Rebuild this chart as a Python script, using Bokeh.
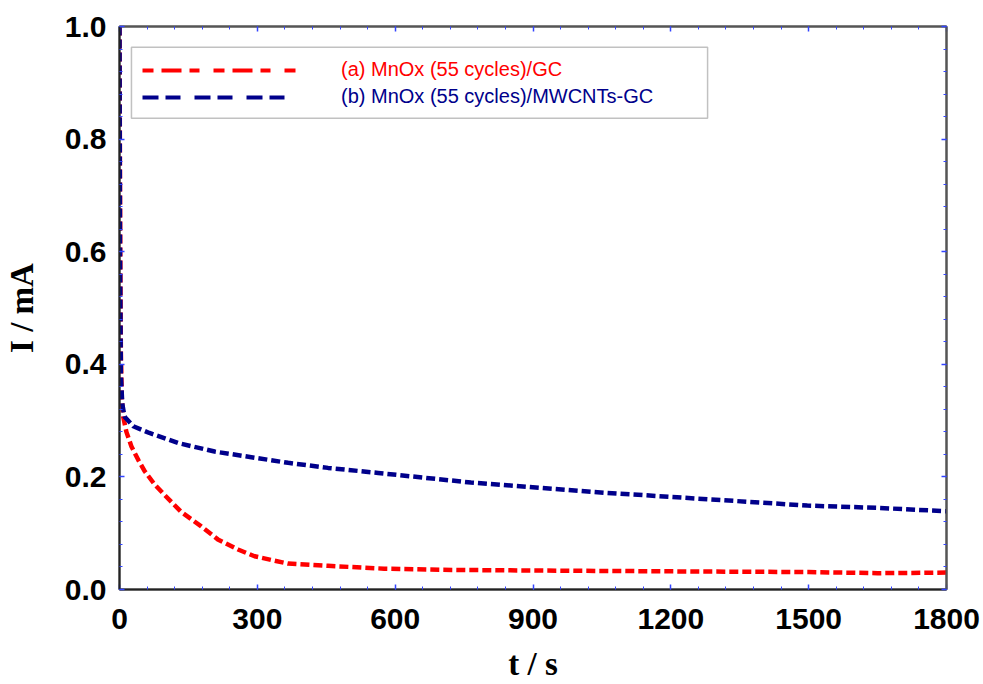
from bokeh.plotting import figure
from bokeh.models import (LinearAxis, FixedTicker, Legend, LegendItem,
                          BoxAnnotation, Range1d)
from bokeh.embed import file_html
from bokeh.resources import INLINE

# ---- data ----
t_a = [0, 1, 2, 3, 5, 8, 15, 26, 41, 55, 77, 98, 134, 178, 214, 258, 294,
       367, 454, 576, 700, 850, 1050, 1250, 1500, 1650, 1800]
i_a = [1.0, 0.75, 0.55, 0.42, 0.34, 0.307, 0.28, 0.254, 0.23, 0.21, 0.186,
       0.168, 0.138, 0.112, 0.089, 0.071, 0.059, 0.046, 0.042, 0.037, 0.035,
       0.034, 0.033, 0.032, 0.031, 0.029, 0.030]

t_b = [0, 1, 3, 6, 11, 30, 65, 128, 207, 287, 367, 454, 563, 765, 1054,
       1287, 1497, 1650, 1800]
i_b = [1.0, 0.6, 0.38, 0.33, 0.307, 0.29, 0.278, 0.26, 0.245, 0.235, 0.225,
       0.216, 0.207, 0.19, 0.172, 0.16, 0.149, 0.145, 0.139]

label_a = "(a) MnOx (55 cycles)/GC"
label_b = "(b) MnOx (55 cycles)/MWCNTs-GC"

x_ticks = [0, 300, 600, 900, 1200, 1500, 1800]
x_minor = [v for v in range(0, 1801, 60)]
y_ticks = [0.0, 0.2, 0.4, 0.6, 0.8, 1.0]
y_minor = [round(k * 0.04, 2) for k in range(0, 26)]

RED = "#ff0000"
BLUE = "#00008b"
TICK = "#3344ff"

p = figure(width=980, height=684,
           x_range=Range1d(0, 1800), y_range=Range1d(0, 1.0),
           output_backend="svg", toolbar_location=None,
           min_border_left=118, min_border_top=26, min_border_right=34,
           min_border_bottom=94, x_axis_location=None, y_axis_location=None)
p.grid.visible = False
p.outline_line_color = "#555555"
p.outline_line_width = 2
p.background_fill_color = "white"
p.border_fill_color = "white"


def style_axis(ax, ticks, minor, show_labels):
    ax.ticker = FixedTicker(ticks=ticks, minor_ticks=minor)
    ax.major_tick_in = 5
    ax.major_tick_out = 0
    ax.minor_tick_in = 3
    ax.minor_tick_out = 0
    ax.major_tick_line_color = TICK
    ax.minor_tick_line_color = TICK
    ax.major_tick_line_width = 1.5
    ax.minor_tick_line_width = 1
    ax.axis_line_color = "#222222"
    ax.axis_line_width = 2
    if show_labels:
        ax.major_label_text_font = "Liberation Sans"
        ax.major_label_text_font_style = "bold"
        ax.major_label_text_font_size = "30px"
        ax.major_label_text_color = "black"
        ax.axis_label_text_font = "Liberation Serif"
        ax.axis_label_text_font_style = "bold"
        ax.axis_label_text_font_size = "33px"
        ax.axis_label_text_color = "black"
    else:
        ax.major_label_text_font_size = "1px"
        ax.major_label_text_color = None
        ax.major_label_standoff = 0
        ax.axis_line_color = "#555555"


xb = LinearAxis(axis_label="t / s")
style_axis(xb, x_ticks, x_minor, True)
xb.major_label_standoff = 19
xb.axis_label_standoff = 14
xb.axis_label_text_line_height = 0.8
xb.major_label_overrides = {v: str(v) for v in x_ticks}
p.add_layout(xb, "below")

yl = LinearAxis(axis_label="I / mA")
style_axis(yl, y_ticks, y_minor, True)
yl.major_label_standoff = 13
yl.axis_label_standoff = 22
yl.major_label_overrides = {v: f"{v:.1f}" for v in y_ticks}
p.add_layout(yl, "left")

xt = LinearAxis()
style_axis(xt, x_ticks, x_minor, False)
p.add_layout(xt, "above")

yr = LinearAxis()
style_axis(yr, y_ticks, y_minor, False)
p.add_layout(yr, "right")

# ---- curves ----
p.line(t_a, i_a, line_color=RED, line_width=4.5, line_dash="9 4",
       line_cap="butt", line_join="round")
p.line(t_b, i_b, line_color=BLUE, line_width=4.5, line_dash="9 4",
       line_cap="butt", line_join="round")

# legend-only renderers (placed outside the visible range)
lg_a = p.line([-1000, -900], [-1, -1], line_color=RED, line_width=4,
              line_dash="11 8 20 8 10 14")
lg_b = p.line([-1000, -900], [-1, -1], line_color=BLUE, line_width=4,
              line_dash="16 7 15 14")

box = BoxAnnotation(left=26, right=1280, top=0.963, bottom=0.837,
                    fill_color="white", fill_alpha=1.0,
                    line_color="#333333", line_width=1.5)
p.add_layout(box)


def make_legend(item_label, renderer, color, loc):
    lg = Legend(items=[LegendItem(label=item_label, renderers=[renderer])],
                location=loc, padding=0, margin=0, spacing=0,
                glyph_width=154, glyph_height=20, label_height=20,
                label_standoff=45, border_line_color=None,
                background_fill_alpha=0.0,
                label_text_font="Liberation Sans",
                label_text_font_size="20px", label_text_color=color)
    p.add_layout(lg, "center")
    return lg


make_legend(label_a, lg_a, RED, (23, 508))
make_legend(label_b, lg_b, BLUE, (23, 481))

open("out.html", "w").write(file_html(p, INLINE))
